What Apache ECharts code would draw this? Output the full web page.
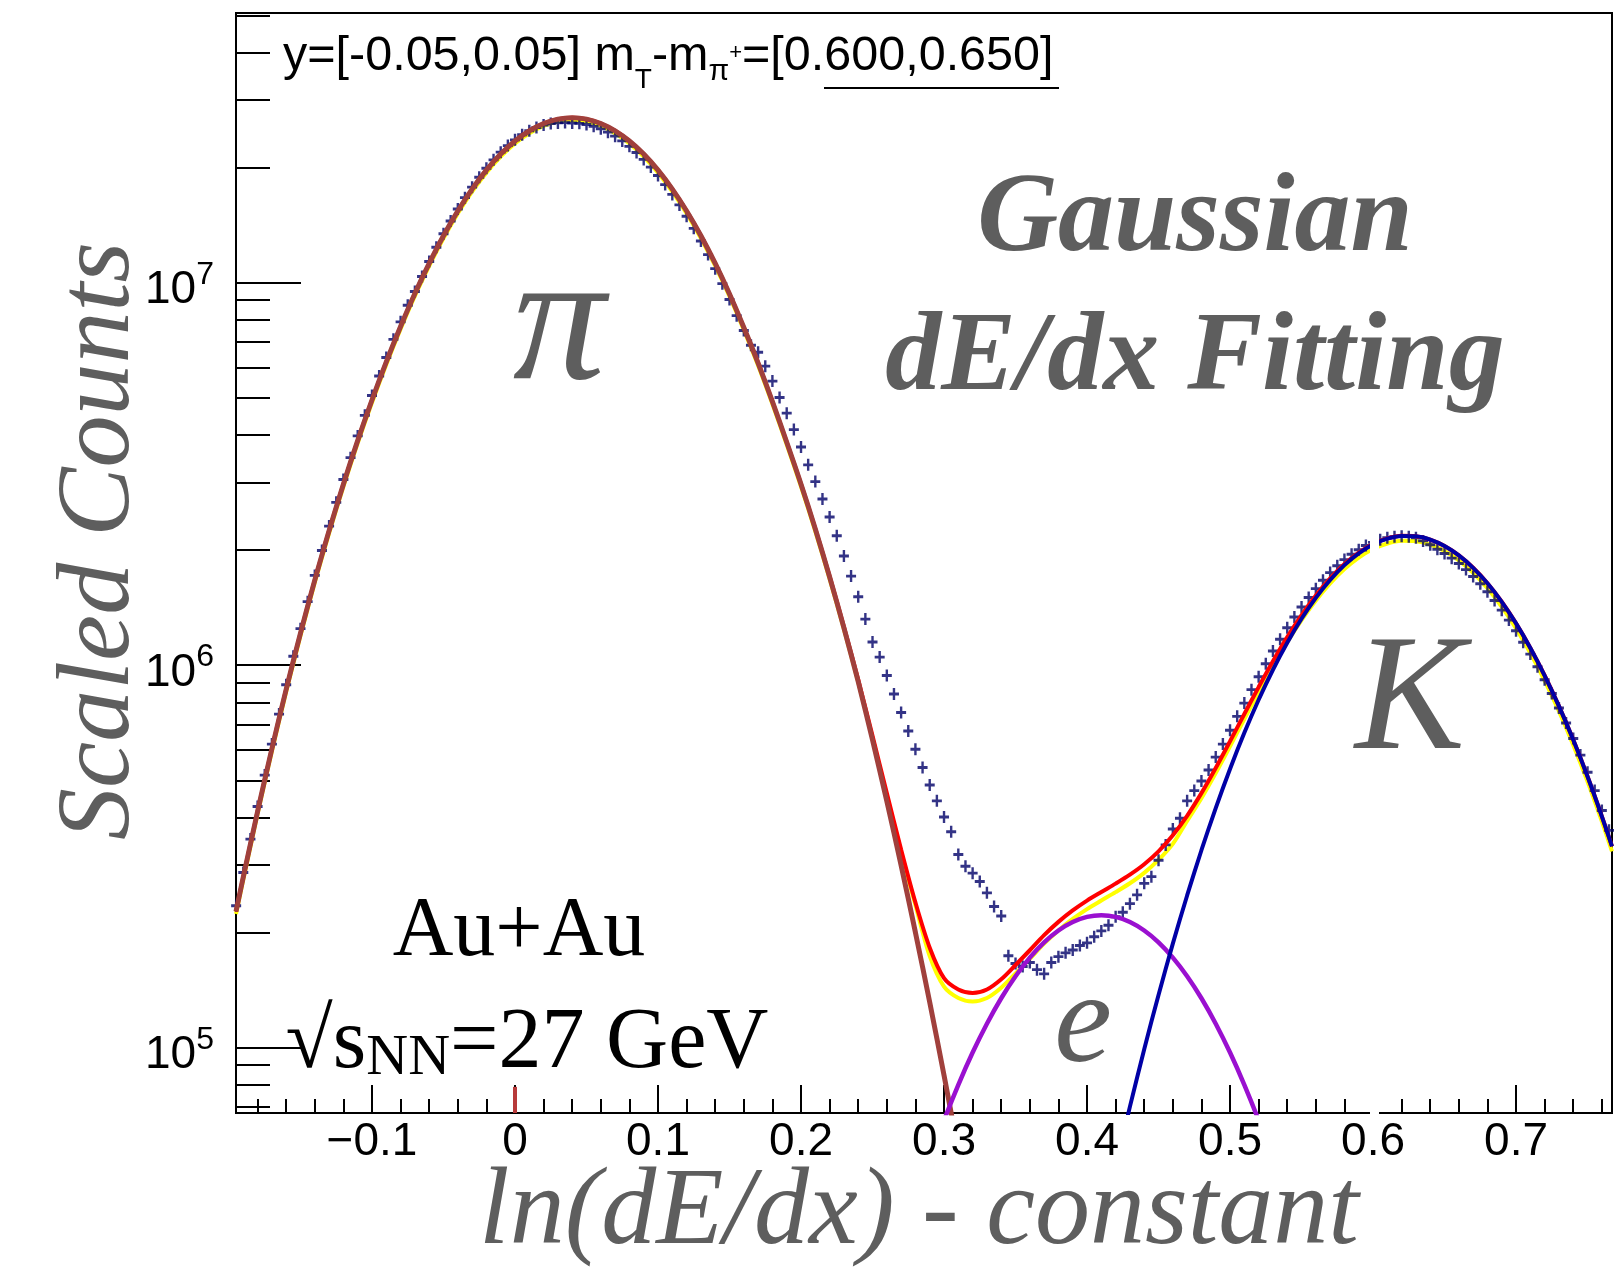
<!DOCTYPE html>
<html>
<head>
<meta charset="utf-8">
<script src="https://cdn.jsdelivr.net/npm/echarts@6/dist/echarts.min.js"></script>
<style>
html,body{margin:0;padding:0;background:#fff;}
#chart{width:1615px;height:1276px;}
</style>
</head>
<body>
<div id="chart"></div>
<script>
// ---- axis ranges and ticks ----
const xRange = [-0.1951, 0.7671];
const yRange = [6.75e4, 5.07e7];
const xMajorTicks = [-0.1, 0, 0.1, 0.2, 0.3, 0.4, 0.5, 0.6, 0.7];
const xMinorTicks = [-0.18, -0.16, -0.14, -0.12, -0.08, -0.06, -0.04, -0.02,
  0.02, 0.04, 0.06, 0.08, 0.12, 0.14, 0.16, 0.18, 0.22, 0.24, 0.26, 0.28,
  0.32, 0.34, 0.36, 0.38, 0.42, 0.44, 0.46, 0.48, 0.52, 0.54, 0.56, 0.58,
  0.62, 0.64, 0.66, 0.68, 0.72, 0.74, 0.76];
const yMinorTicks = [7e4, 8e4, 9e4, 2e5, 3e5, 4e5, 5e5, 6e5, 7e5, 8e5, 9e5,
  2e6, 3e6, 4e6, 5e6, 6e6, 7e6, 8e6, 9e6, 2e7, 3e7, 4e7, 5e7];

// ---- measured distribution: bins of width 0.005 starting at -0.195 ----
const binStart = -0.195;
const binWidth = 0.005;
const counts = [
  2.35e5, 2.87e5, 3.51e5, 4.27e5, 5.16e5, 6.22e5, 7.45e5, 8.89e5, 1.055e6, 1.246e6,
  1.466e6, 1.717e6, 1.994e6, 2.31e6, 2.665e6, 3.058e6, 3.488e6, 3.976e6, 4.50e6, 5.07e6,
  5.70e6, 6.376e6, 7.11e6, 7.90e6, 8.73e6, 9.48e6, 1.038e7, 1.136e7, 1.238e7, 1.343e7,
  1.450e7, 1.558e7, 1.668e7, 1.777e7, 1.886e7, 1.992e7, 2.095e7, 2.194e7, 2.282e7,
  2.363e7, 2.436e7, 2.495e7, 2.544e7, 2.583e7, 2.605e7, 2.616e7, 2.621e7, 2.614e7, 2.609e7,
  2.592e7, 2.563e7, 2.524e7, 2.475e7, 2.416e7, 2.348e7, 2.272e7, 2.189e7, 2.100e7, 2.005e7,
  1.906e7, 1.805e7, 1.701e7, 1.597e7, 1.492e7, 1.387e7, 1.285e7, 1.184e7, 1.088e7, 9.94e6,
  9.04e6, 8.20e6, 7.50e6, 6.86e6, 6.58e6, 6.05e6, 5.53e6, 5.01e6, 4.56e6, 4.13e6,
  3.72e6, 3.34e6, 3.02e6, 2.72e6, 2.44e6, 2.18e6, 1.93e6, 1.71e6, 1.51e6, 1.32e6,
  1.15e6, 1.05e6, 9.40e5, 8.41e5, 7.52e5, 6.73e5, 6.03e5, 5.40e5, 4.86e5, 4.42e5,
  4.01e5, 3.67e5, 3.20e5, 2.98e5, 2.86e5, 2.72e5, 2.54e5, 2.34e5, 2.21e5, 1.74e5,
  1.66e5, 1.63e5, 1.67e5, 1.60e5, 1.56e5, 1.67e5, 1.73e5, 1.77e5, 1.80e5, 1.85e5,
  1.88e5, 1.95e5, 2.02e5, 2.09e5, 2.20e5, 2.26e5, 2.38e5, 2.51e5, 2.69e5, 2.80e5,
  3.09e5, 3.39e5, 3.73e5, 3.98e5, 4.42e5, 4.70e5, 4.98e5, 5.32e5, 5.75e5, 6.22e5,
  6.76e5, 7.35e5, 7.96e5, 8.63e5, 9.33e5, 1.009e6, 1.089e6, 1.169e6, 1.253e6, 1.337e6,
  1.419e6, 1.503e6, 1.585e6, 1.667e6, 1.746e6, 1.820e6, 1.888e6, 1.950e6, 2.004e6, 2.056e6,
  2.094e6, 2.128e6, 2.153e6, 2.168e6, 2.173e6, 2.168e6, 2.153e6, 2.113e6, 2.065e6, 2.009e6,
  1.959e6, 1.905e6, 1.845e6, 1.778e6, 1.706e6, 1.633e6, 1.556e6, 1.476e6, 1.393e6, 1.312e6,
  1.230e6, 1.148e6, 1.069e6, 9.91e5, 9.16e5, 8.43e5, 7.73e5, 7.06e5, 6.43e5, 5.82e5,
  5.25e5, 4.70e5, 4.17e5, 3.70e5
];

// ---- fitted curves, sampled every 0.01 (plus the frame edges) ----
function steps(from, to, step) {
  const out = [];
  const n = Math.round((to - from) / step);
  for (let i = 0; i <= n; i++) out.push(+(from + i * step).toFixed(4));
  return out;
}
const fitX = [xRange[0]].concat(steps(-0.19, 0.76, 0.01), [xRange[1]]);
const pionX = [xRange[0]].concat(steps(-0.19, 0.31, 0.01));
const electronX = steps(0.29, 0.53, 0.01);
const kaonX = steps(0.42, 0.76, 0.01).concat([xRange[1]]);

const totalFit = [
  2.270e5, 2.794e5, 4.147e5, 6.046e5, 8.650e5, 1.2122e6, 1.6693e6, 2.2475e6, 2.9728e6, 3.8643e6,
  4.9347e6, 6.2053e6, 7.6814e6, 9.3689e6, 1.1231e7, 1.3267e7, 1.5401e7, 1.7567e7, 1.9689e7, 2.1683e7,
  2.3465e7, 2.4950e7, 2.6069e7, 2.6764e7, 2.7000e7, 2.6764e7, 2.6069e7, 2.4950e7, 2.3465e7, 2.1683e7,
  1.9689e7, 1.7567e7, 1.5401e7, 1.3267e7, 1.1231e7, 9.3409e6, 7.6356e6, 6.163e6, 4.887e6, 3.829e6,
  2.975e6, 2.273e6, 1.707e6, 1.260e6, 9.170e5, 6.536e5, 4.634e5, 3.298e5, 2.398e5,
  1.826e5, 1.52e5, 1.42e5, 1.39e5, 1.42e5, 1.51e5, 1.645e5, 1.798e5, 1.969e5, 2.133e5,
  2.285e5, 2.424e5, 2.553e5, 2.685e5, 2.833e5, 3.016e5, 3.260e5, 3.591e5,
  4.038e5, 4.629e5, 5.386e5, 6.326e5, 7.455e5, 8.766e5, 1.0240e6, 1.1842e6, 1.3523e6, 1.5222e6,
  1.6867e6, 1.8384e6, 1.9697e6, 2.0739e6, 2.1451e6, 2.1793e6, 2.1744e6, 2.1306e6, 2.0501e6, 1.9373e6,
  1.7973e6, 1.6374e6, 1.4648e6, 1.2866e6, 1.1096e6, 9.398e5, 7.815e5, 6.381e5, 5.116e5, 4.027e5,
  3.361e5
];
const altFit = [
  2.236e5, 2.752e5, 4.085e5, 5.955e5, 8.520e5, 1.1940e6, 1.6443e6, 2.2138e6, 2.9282e6, 3.8063e6,
  4.8607e6, 6.1122e6, 7.5662e6, 9.2284e6, 1.1063e7, 1.3068e7, 1.5170e7, 1.7303e7, 1.9394e7, 2.1358e7,
  2.3113e7, 2.4576e7, 2.5678e7, 2.6363e7, 2.6595e7, 2.6363e7, 2.5678e7, 2.4576e7, 2.3113e7, 2.1358e7,
  1.9394e7, 1.7303e7, 1.5170e7, 1.3068e7, 1.1063e7, 9.2008e6, 7.5211e6, 6.0706e6, 4.8137e6, 3.7716e6,
  2.9304e6, 2.2389e6, 1.6814e6, 1.2411e6, 9.032e5, 6.438e5, 4.564e5, 3.248e5, 2.362e5,
  1.735e5, 1.444e5, 1.349e5, 1.321e5, 1.349e5, 1.435e5, 1.563e5, 1.708e5, 1.871e5, 2.026e5,
  2.171e5, 2.303e5, 2.425e5, 2.551e5, 2.691e5, 2.865e5, 3.097e5, 3.411e5,
  3.917e5, 4.490e5, 5.224e5, 6.136e5, 7.231e5, 8.503e5, 9.933e5, 1.1487e6, 1.3117e6, 1.4765e6,
  1.6361e6, 1.7832e6, 1.9106e6, 2.0117e6, 2.0807e6, 2.1139e6, 2.1092e6, 2.0667e6, 1.9886e6, 1.8792e6,
  1.7434e6, 1.5883e6, 1.4209e6, 1.2480e6, 1.0763e6, 9.116e5, 7.581e5, 6.190e5, 4.963e5, 3.906e5,
  3.260e5
];
const pionFit = [
  2.270e5, 2.794e5, 4.147e5, 6.046e5, 8.650e5, 1.2122e6, 1.6693e6, 2.2475e6, 2.9728e6, 3.8643e6,
  4.9347e6, 6.2053e6, 7.6814e6, 9.3689e6, 1.1231e7, 1.3267e7, 1.5401e7, 1.7567e7, 1.9689e7, 2.1683e7,
  2.3465e7, 2.4950e7, 2.6069e7, 2.6764e7, 2.7000e7, 2.6764e7, 2.6069e7, 2.4950e7, 2.3465e7, 2.1683e7,
  1.9689e7, 1.7567e7, 1.5401e7, 1.3267e7, 1.1231e7, 9.3409e6, 7.6356e6, 6.162e6, 4.886e6, 3.827e6,
  2.973e6, 2.269e6, 1.701e6, 1.252e6, 9.054e5, 6.373e5, 4.410e5, 2.997e5, 2.002e5, 1.314e5,
  8.47e4, 5.37e4
];
const electronFit = [
  5.108e4, 6.459e4, 8.000e4, 9.714e4, 1.1556e5, 1.3467e5, 1.5374e5, 1.7199e5, 1.8857e5, 2.0252e5,
  2.1311e5, 2.1975e5, 2.2200e5, 2.1975e5, 2.1311e5, 2.0252e5, 1.8857e5, 1.7199e5, 1.5374e5, 1.3467e5,
  1.1556e5, 9.714e4, 8.000e4, 6.459e4, 5.108e4
];
const kaonFit = [
  4.878e4, 7.014e4, 9.904e4, 1.3739e5, 1.8707e5, 2.5005e5, 3.2826e5, 4.2307e5, 5.3547e5, 6.6549e5,
  8.1198e5, 9.7293e5, 1.1446e6, 1.3222e6, 1.4998e6, 1.6704e6, 1.8268e6, 1.9616e6, 2.0683e6, 2.1413e6,
  2.1768e6, 2.1728e6, 2.1296e6, 2.0495e6, 1.9367e6, 1.7970e6, 1.6372e6, 1.4647e6, 1.2865e6, 1.1096e6,
  9.3975e5, 7.8144e5, 6.3809e5, 5.1156e5, 4.0271e5, 3.361e5
];

// ---- helpers ----
const pair = (xs, ys) => ys.map((y, i) => [xs[i], y]);
const points = counts.map((c, i) => [+(binStart + i * binWidth).toFixed(3), c]);
const plusSymbol = 'path://M3.8,0H6.2V3.8H10V6.2H6.2V10H3.8V6.2H0V3.8H3.8Z';
const gray = '#5e5e5e';
const sans = '"Liberation Sans", Arial, Helvetica, sans-serif';
const serif = '"Liberation Serif", "Times New Roman", serif';

function xLabel(v) {
  if (Math.abs(v) < 1e-9) return '0';
  return (v < 0 ? '\u2212' : '') + Math.abs(v).toFixed(1);
}
function yLabel(v) {
  const e = Math.log10(v);
  const r = Math.round(e);
  if (Math.abs(e - r) > 1e-6) return '';
  return '{b|10}{s|' + r + '}';
}

function curve(name, xs, ys, color, width, z, extra) {
  return Object.assign({
    name: name, type: 'line', data: pair(xs, ys), showSymbol: false, smooth: 0.3,
    clip: true, z: z, silent: true,
    lineStyle: { color: color, width: width }
  }, extra || {});
}

function centered(x, y, text, size, family, color, opts) {
  return Object.assign({
    type: 'text', x: x, y: y, silent: true, z: 50,
    style: Object.assign({
      text: text, fontSize: size, fontFamily: family, fill: color,
      align: 'center', textAlign: 'center', verticalAlign: 'middle', textVerticalAlign: 'middle'
    }, opts || {})
  });
}

const chart = echarts.init(document.getElementById('chart'), null, { width: 1615, height: 1276 });

const option = {
  animation: false,
  backgroundColor: '#ffffff',
  textStyle: { fontFamily: sans },
  grid: {
    left: 236, top: 13, width: 1376, height: 1100,
    show: true, borderColor: '#000', borderWidth: 2, backgroundColor: 'transparent',
    containLabel: false, outerBoundsMode: 'none'
  },
  xAxis: [
    {
      type: 'value', min: xRange[0], max: xRange[1], position: 'bottom',
      axisLine: { show: true, onZero: false, lineStyle: { color: '#000', width: 2 } },
      axisTick: { show: true, inside: true, length: 28, customValues: xMajorTicks, lineStyle: { color: '#000', width: 2 } },
      axisLabel: {
        show: true, customValues: xMajorTicks, formatter: xLabel, margin: 6,
        fontSize: 46, lineHeight: 46, fontFamily: sans, color: '#000'
      },
      splitLine: { show: false }
    },
    {
      type: 'value', min: xRange[0], max: xRange[1], position: 'bottom',
      axisLine: { show: false, onZero: false },
      axisTick: { show: true, inside: true, length: 14, customValues: xMinorTicks, lineStyle: { color: '#000', width: 2 } },
      axisLabel: { show: false },
      splitLine: { show: false }
    }
  ],
  yAxis: [
    {
      type: 'log', logBase: 10, min: yRange[0], max: yRange[1], position: 'left',
      axisLine: { show: true, onZero: false, lineStyle: { color: '#000', width: 2 } },
      axisTick: { show: true, inside: true, length: 65, lineStyle: { color: '#000', width: 2 } },
      axisLabel: {
        show: true, formatter: yLabel, margin: 22,
        rich: {
          b: { fontSize: 46, lineHeight: 46, fontFamily: sans, color: '#000', padding: [16, 0, 0, 0], verticalAlign: 'middle' },
          s: { fontSize: 32, lineHeight: 32, fontFamily: sans, color: '#000', padding: [0, 0, 16, 0], verticalAlign: 'middle' }
        }
      },
      splitLine: { show: false },
      minorTick: { show: false }
    },
    {
      type: 'value', min: Math.log10(yRange[0]), max: Math.log10(yRange[1]), position: 'left',
      axisLine: { show: false, onZero: false },
      axisTick: { show: true, inside: true, length: 34, customValues: yMinorTicks.map(v => Math.log10(v)), lineStyle: { color: '#000', width: 2 } },
      axisLabel: { show: false },
      splitLine: { show: false }
    }
  ],
  series: [
    curve('alt fit', fitX, altFit, '#ffff00', 4, 2),
    {
      name: 'data', type: 'scatter', data: points, symbol: plusSymbol, symbolSize: [10, 12],
      itemStyle: { color: '#000068' }, z: 3, silent: true, clip: true
    },
    curve('total fit', fitX, totalFit, '#ff0000', 4, 4),
    curve('pion', pionX, pionFit, '#a0403c', 5, 5, {
      markLine: {
        silent: true, symbol: 'none', label: { show: false },
        lineStyle: { color: '#b83a3a', width: 4, type: 'solid' },
        data: [[{ coord: [0, yRange[0]] }, { coord: [0, 7.9e4] }]]
      }
    }),
    curve('electron', electronX, electronFit, '#9a10d0', 4.5, 6),
    curve('kaon', kaonX, kaonFit, '#0000a6', 4, 7)
  ],
  graphic: [
    {
      type: 'text', x: 283, y: 57, silent: true, z: 50,
      style: {
        text: '{m|y=[-0.05,0.05] m}{t|T}{m|-m}{p|\u03c0}{q|+}{m|=[0.600,0.650]}',
        align: 'left', textAlign: 'left', verticalAlign: 'middle', textVerticalAlign: 'middle',
        rich: {
          m: { fontSize: 48.5, lineHeight: 56, fontFamily: sans, fill: '#000', color: '#000', verticalAlign: 'middle' },
          t: { fontSize: 28, lineHeight: 28, fontFamily: sans, fill: '#000', color: '#000', padding: [47, 0, 0, 0], verticalAlign: 'middle' },
          p: { fontSize: 30, lineHeight: 30, fontFamily: sans, fill: '#000', color: '#000', padding: [30, 0, 0, 0], verticalAlign: 'middle' },
          q: { fontSize: 22, lineHeight: 22, fontFamily: sans, fill: '#000', color: '#000', padding: [0, 0, 9, 0], verticalAlign: 'middle' }
        }
      }
    },
    {
      type: 'line', silent: true, z: 50,
      shape: { x1: 824, y1: 88, x2: 1059, y2: 88 },
      style: { stroke: '#000', lineWidth: 2 }
    },
    // narrow blank strip crossing the frame just right of 0.6
    {
      type: 'rect', silent: true, z: 40,
      shape: { x: 1370, y: 520, width: 9, height: 595 },
      style: { fill: '#ffffff' }
    },
    centered(1195, 221, 'Gaussian', 112, serif, gray, { fontStyle: 'italic', fontWeight: 'bold' }),
    centered(1195, 360, 'dE/dx Fitting', 112, serif, gray, { fontStyle: 'italic', fontWeight: 'bold' }),
    centered(559, 329, '\u03c0', 185, serif, gray, { fontStyle: 'italic' }),
    centered(1410, 705, 'K', 165, serif, gray, { fontStyle: 'italic' }),
    centered(1083, 1027, 'e', 130, serif, gray, { fontStyle: 'italic' }),
    centered(519, 933, 'Au+Au', 84, serif, '#000'),
    {
      type: 'text', x: 527, y: 1044, silent: true, z: 50,
      style: {
        text: '{a|\u221As}{n|NN}{a|=27 GeV}',
        align: 'center', textAlign: 'center', verticalAlign: 'middle', textVerticalAlign: 'middle',
        rich: {
          a: { fontSize: 86, lineHeight: 86, fontFamily: serif, fill: '#000', color: '#000', verticalAlign: 'middle' },
          n: { fontSize: 58, lineHeight: 58, fontFamily: serif, fill: '#000', color: '#000', padding: [30, 0, 0, 0], verticalAlign: 'middle' }
        }
      }
    },
    Object.assign(centered(101, 541, 'Scaled Counts', 104, serif, gray, { fontStyle: 'italic' }), { rotation: Math.PI / 2 }),
    centered(919, 1214, 'ln(dE/dx) - constant', 110, serif, gray, { fontStyle: 'italic' })
  ]
};

chart.setOption(option);
</script>
</body>
</html>
